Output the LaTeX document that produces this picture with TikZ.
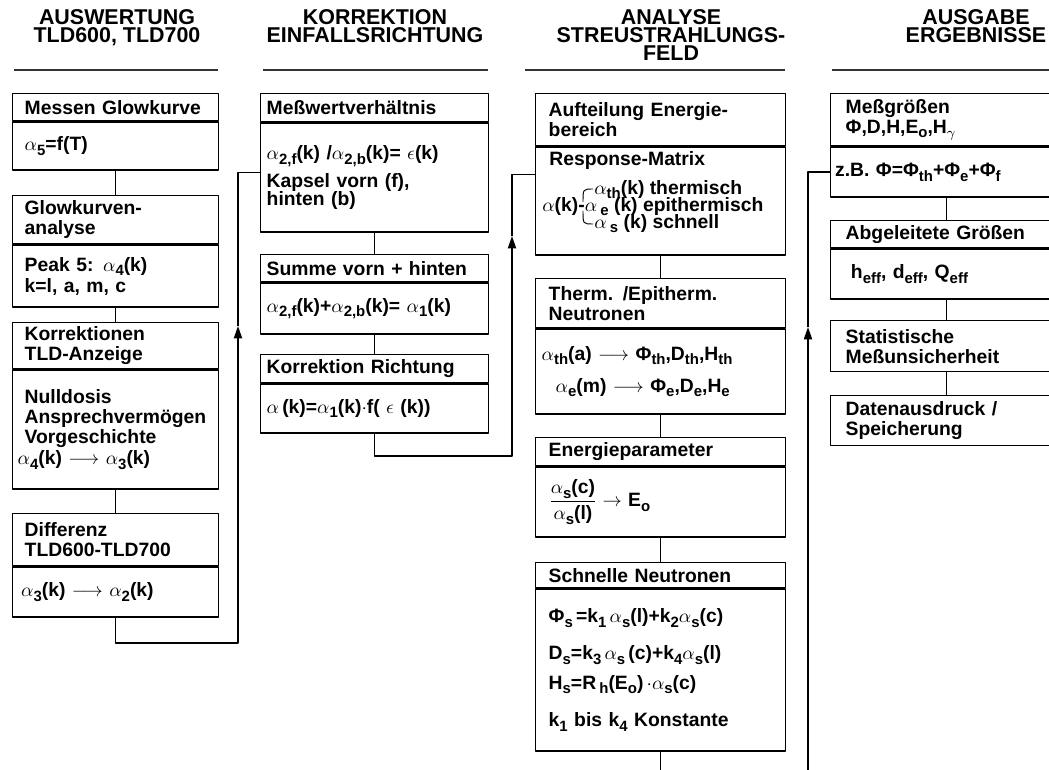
\documentclass[tikz,border=0pt]{standalone}
\usepackage{fontspec}
\setmainfont{Liberation Sans}
\usetikzlibrary{arrows.meta,positioning}

% lowered index and the alpha used in all formulas
\newcommand\dn[1]{\raisebox{-0.45ex}{\fontsize{8.5}{8.5}\selectfont #1}}
\newcommand\up[1]{\raisebox{-0.3ex}{\fontsize{8.5}{8.5}\selectfont #1}}
\newcommand\alf{$\alpha$}

\begin{document}
\begin{tikzpicture}[
  x=0.02cm,y=-0.02cm,
  line join=round,
  boxfont/.style={font=\fontsize{11}{11.4}\selectfont\bfseries},
  cell/.style={draw=black,line width=0.8pt,rectangle,anchor=north west,inner ysep=1pt,align=left,boxfont},
  colA/.style={cell,inner xsep=0.24cm,text width=3.64cm},
  colB/.style={cell,inner xsep=0.12cm,text width=4.32cm},
  colC/.style={cell,inner xsep=0.26cm,text width=4.48cm},
  colD/.style={cell,inner xsep=0.30cm,text width=4.04cm},
  row/.style={anchor=base west,inner sep=0pt,boxfont},
  title/.style={anchor=north,align=center,inner sep=0pt,font=\fontsize{12.2}{10.4}\selectfont\bfseries},
  rule/.style={draw=black!80,line width=0.6pt},
  link/.style={draw=black,line width=0.9pt},
  rise/.style={link,-{Triangle[length=7pt,width=4.6pt]}},
  hook/.style={draw=black,line width=0.55pt}
]
  \useasboundingbox (0,0) rectangle (1049,770);

  % column headings
  \node[title] (t1) at (117,9) {AUSWERTUNG\\TLD600, TLD700};
  \node[title] (t2) at (375,9) {KORREKTION\\EINFALLSRICHTUNG};
  \node[title] (t3) at (671,9) {ANALYSE\\STREUSTRAHLUNGS-\\FELD};
  \node[title] (t4) at (976,9) {AUSGABE\\ERGEBNISSE};

  \draw[rule] (14,70) -- (218,70);
  \draw[rule] (263,70) -- (488,70);
  \draw[rule] (525,70) -- (785,70);
  \draw[rule] (832,70) -- (1049,70);

  % column 1
  \node[colA,minimum height=0.54cm] (messH) at (12,93) {Messen Glowkurve};
  \node[colA,minimum height=0.96cm,below=0pt of messH] (messB) {\alf\dn{5}=f(T)};
  \node[colA,minimum height=0.96cm] (glowH) at (12,195) {Glowkurven-\\analyse};
  \node[colA,minimum height=1.24cm,below=0pt of glowH] (glowB) {Peak 5: \alf\dn{4}(k)\\[0.6pt]k=l, a, m, c};
  \node[colA,minimum height=0.92cm] (korrH) at (12,322) {Korrektionen\\TLD-Anzeige};
  \node[colA,minimum height=2.38cm,below=0pt of korrH] (korrB) {Nulldosis\\Ansprechvermögen\\Vorgeschichte\\[0.6pt]\hspace*{-4pt}\alf\dn{4}(k) $\longrightarrow$ \alf\dn{3}(k)};
  \node[colA,minimum height=1.04cm] (diffH) at (12,513) {Differenz\\TLD600-TLD700};
  \node[colA,minimum height=1.0cm,below=0pt of diffH] (diffB) {\hspace*{-2pt}\alf\dn{3}(k) $\longrightarrow$ \alf\dn{2}(k)};

  \draw[link] (messB.south) -- (glowH.north);
  \draw[link] (glowB.south) -- (korrH.north);
  \draw[link] (korrB.south) -- (diffH.north);

  % column 2
  \node[colB,minimum height=0.56cm] (mwH) at (260,93) {Meßwertverhältnis};
  \node[colB,minimum height=2.18cm,below=0pt of mwH] (mwB) {\alf\dn{2,f}(k) /\alf\dn{2,b}(k)= $\epsilon$(k)\\[3pt]Kapsel vorn (f),\\[-1.2pt]hinten (b)};
  \node[colB,minimum height=0.54cm] (sumH) at (260,254) {Summe vorn + hinten};
  \node[colB,minimum height=1.02cm,below=0pt of sumH] (sumB) {\alf\dn{2,f}(k)+\alf\dn{2,b}(k)= \alf\dn{1}(k)};
  \node[colB,minimum height=0.56cm] (richtH) at (260,354) {Korrektion Richtung};
  \node[colB,minimum height=0.98cm,below=0pt of richtH] (richtB) {\alf\,(k)=\alf\dn{1}(k)$\cdot$f( $\epsilon$ (k))};

  \draw[link] (mwB.south) -- (sumH.north);
  \draw[link] (sumB.south) -- (richtH.north);

  % column 3
  \node[colC,minimum height=1.04cm] (auftH) at (535,93) {Aufteilung Energie-\\bereich};
  \node[colC,minimum height=2.16cm,below=0pt of auftH] (auftB) {};
  \node[row] (resp) at (549,166) {Response-Matrix};
  \node[row] (resTh) at (594,195) {\alf\up{th}(k) thermisch};
  \node[row] (resEp) at (542,212) {\alf(k)-\alf\,\up{e} (k) epithermisch};
  \node[row] (resS) at (594,229) {\alf\,\up{s} (k) schnell};
  \draw[hook] (583,202) .. controls (583,189) .. (593,189);
  \draw[hook] (583,211) .. controls (583,224) .. (593,224);

  \node[colC,minimum height=0.98cm] (thermH) at (535,278) {Therm. /Epitherm.\\Neutronen};
  \node[colC,minimum height=1.7cm,below=0pt of thermH] (thermB) {\hspace*{-4pt}\alf\dn{th}(a) $\longrightarrow$ Φ\dn{th},D\dn{th},H\dn{th}\\[7pt]\hspace*{4pt}\alf\dn{e}(m) $\longrightarrow$ Φ\dn{e},D\dn{e},H\dn{e}};
  \node[colC,minimum height=0.56cm] (energH) at (535,437) {Energieparameter};
  \node[colC,minimum height=1.4cm,below=0pt of energH] (energB) {$\displaystyle\frac{\mbox{\alf\dn{s}(c)}}{\mbox{\alf\dn{s}(l)}}\rightarrow$ E\dn{o}};
  \node[colC,minimum height=0.5cm] (schnH) at (535,562) {Schnelle Neutronen};
  \node[colC,minimum height=3.24cm,below=0pt of schnH] (schnB) {Φ\dn{s}\,=k\dn{1}\,\alf\dn{s}(l)+k\dn{2}\alf\dn{s}(c)\\[9.6pt]D\dn{s}=k\dn{3}\,\alf\dn{s}\,(c)+k\dn{4}\alf\dn{s}(l)\\[5.6pt]H\dn{s}=R\,\dn{h}(E\dn{o})\,$\cdot$\alf\dn{s}(c)\\[10pt]k\dn{1} bis k\dn{4} Konstante};

  \draw[link] (auftB.south) -- (thermH.north);
  \draw[link] (thermB.south) -- (energH.north);
  \draw[link] (energB.south) -- (schnH.north);

  % column 4
  \node[colD,minimum height=1.04cm] (ergH) at (830,93) {Meßgrößen\\Φ,D,H,E\dn{o},H\dn{$\gamma$}};
  \node[colD,minimum height=1.0cm,below=0pt of ergH] (ergB) {\hspace*{-6pt}z.B. Φ=Φ\dn{th}+Φ\dn{e}+Φ\dn{f}};
  \node[colD,minimum height=0.54cm] (abgH) at (830,220) {Abgeleitete Größen};
  \node[colD,minimum height=1.0cm,below=0pt of abgH] (abgB) {\hspace*{3pt}h\dn{eff}, d\dn{eff}, Q\dn{eff}};
  \node[colD,minimum height=1.02cm] (statH) at (830,320) {Statistische\\Meßunsicherheit};
  \node[colD,minimum height=1.0cm] (datH) at (830,395) {Datenausdruck /\\Speicherung};

  \draw[link] (ergB.south) -- (abgH.north);
  \draw[link] (abgB.south) -- (statH.north);
  \draw[link] (statH.south) -- (datH.north);

  % results handed on to the next column
  \coordinate (upA) at (238,326);
  \draw[rise] (diffB.south) -- ++(0,25) -| (upA);
  \draw[link] (upA) |- ([yshift=0.1cm]mwB.west);

  \coordinate (upB) at (512,236);
  \draw[rise] (richtB.south) -- ++(0,22) -| (upB);
  \draw[link] (upB) |- ([yshift=-0.56cm]auftB.north west);

  \coordinate (upC) at (808,327);
  \draw[rise] (schnB.south) -- ++(0,45) -| (upC);
  \draw[link] (upC) |- (ergB.west);
\end{tikzpicture}
\end{document}
